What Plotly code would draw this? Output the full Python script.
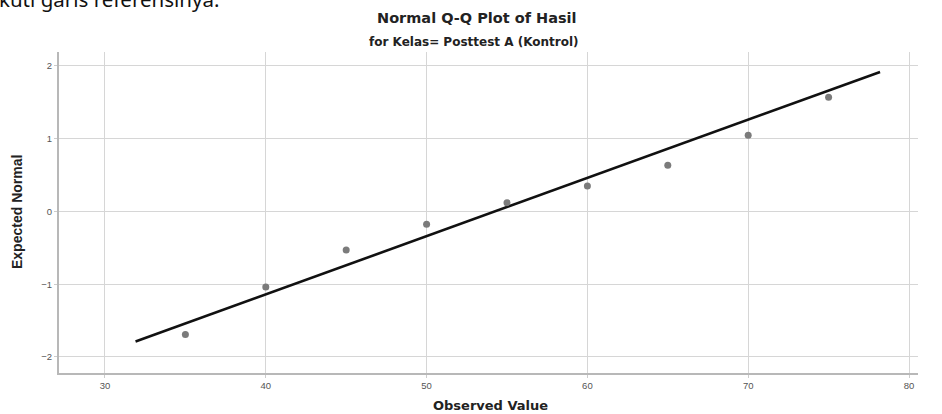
import plotly.graph_objects as go

# Data
observed = [35, 40, 45, 50, 55, 60, 65, 70, 75]
expected_normal = [-1.69, -1.04, -0.53, -0.175, 0.12, 0.35, 0.634, 1.048, 1.568]
ref_mean = 54.25
ref_sd = 12.5
ref_line_x = [31.9, 78.2]
ref_line_y = [(v - ref_mean) / ref_sd for v in ref_line_x]

x_ticks = [30, 40, 50, 60, 70, 80]
y_ticks = [-2, -1, 0, 1, 2]

W, H = 942, 414
L, R, T, B = 59, 24, 52, 41
pw, ph = W - L - R, H - T - B

def px(xp):
    return (xp - L) / pw

def py(yp):
    return (H - B - yp) / ph

fig = go.Figure()
fig.add_trace(go.Scatter(
    x=ref_line_x, y=ref_line_y, mode="lines",
    line=dict(color="#111111", width=2.6), showlegend=False, hoverinfo="skip"))
fig.add_trace(go.Scatter(
    x=observed, y=expected_normal, mode="markers",
    marker=dict(color="#7b7b7b", size=7, line=dict(width=0)), showlegend=False))

font_main = "Liberation Sans, Arial, sans-serif"
font_wide = "DejaVu Sans, sans-serif"

fig.update_layout(
    width=W, height=H,
    margin=dict(l=L, r=R, t=T, b=B),
    paper_bgcolor="white", plot_bgcolor="white",
    xaxis=dict(range=[27.14, 80.56], tickvals=x_ticks, showgrid=True,
               gridcolor="#d6d6d6", gridwidth=1, zeroline=False,
               showline=True, linecolor="#b8b8b8", linewidth=2,
               ticks="outside", ticklen=3, tickcolor="#cccccc",
               tickfont=dict(family=font_main, size=9.5, color="#555555")),
    yaxis=dict(range=[-2.22, 2.19], tickvals=y_ticks, showgrid=True,
               gridcolor="#d6d6d6", gridwidth=1, zeroline=False,
               showline=True, linecolor="#b8b8b8", linewidth=2,
               ticks="outside", ticklen=3, tickcolor="#cccccc",
               tickfont=dict(family=font_main, size=9.5, color="#555555")),
    annotations=[
        dict(text="<b>Normal Q-Q Plot of Hasil</b>", xref="paper", yref="paper",
             x=px(477), y=py(18), xanchor="center", yanchor="middle", showarrow=False,
             font=dict(family=font_wide, size=14.5, color="#222222")),
        dict(text="<b>for Kelas= Posttest A (Kontrol)</b>", xref="paper", yref="paper",
             x=px(474), y=py(42), xanchor="center", yanchor="middle", showarrow=False,
             font=dict(family=font_wide, size=12, color="#222222")),
        dict(text="<b>Observed Value</b>", xref="paper", yref="paper",
             x=px(490), y=py(406), xanchor="center", yanchor="middle", showarrow=False,
             font=dict(family=font_wide, size=13, color="#222222")),
        dict(text="<b>Expected Normal</b>", xref="paper", yref="paper",
             x=px(17), y=py(212), xanchor="center", yanchor="middle", showarrow=False,
             textangle=-90,
             font=dict(family=font_main, size=14, color="#222222")),
        dict(text="kuti garis referensinya.", xref="paper", yref="paper",
             x=px(-3), y=py(-1), xanchor="left", yanchor="middle", showarrow=False,
             font=dict(family="Noto Sans, sans-serif", size=20.5, color="#111111")),
    ],
)

fig.write_html("out.html", config={"displayModeBar": False},
               post_script="document.body.style.margin='0';")
